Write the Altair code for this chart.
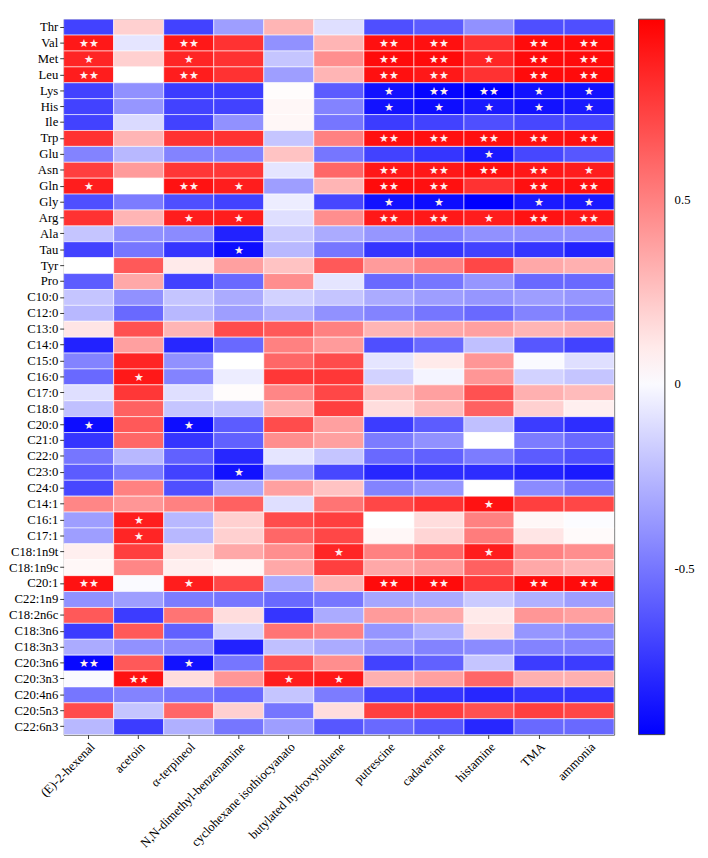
import altair as alt
import pandas as pd

rows = ["Thr", "Val", "Met", "Leu", "Lys", "His", "Ile", "Trp", "Glu", "Asn", "Gln", "Gly", "Arg",
        "Ala", "Tau", "Tyr", "Pro", "C10:0", "C12:0", "C13:0", "C14:0", "C15:0", "C16:0", "C17:0",
        "C18:0", "C20:0", "C21:0", "C22:0", "C23:0", "C24:0", "C14:1", "C16:1", "C17:1", "C18:1n9t",
        "C18:1n9c", "C20:1", "C22:1n9", "C18:2n6c", "C18:3n6", "C18:3n3", "C20:3n6", "C20:3n3",
        "C20:4n6", "C20:5n3", "C22:6n3"]

cols = ["(E)-2-hexenal", "acetoin", "α-terpineol", "N,N-dimethyl-benzenamine",
        "cyclohexane isothiocyanato", "butylated hydroxytoluene", "putrescine", "cadaverine",
        "histamine", "TMA", "ammonia"]

hexenal = [-0.7, 0.9, 0.85, 0.88, -0.7, -0.7, -0.7, 0.8, -0.45, 0.75, 0.88, -0.65, 0.8, -0.2, -0.7,
           0.02, -0.6, -0.2, -0.25, 0.12, -0.82, -0.45, -0.55, -0.1, -0.22, -0.9, -0.75, -0.5, -0.6,
           -0.68, 0.48, -0.35, -0.35, 0.08, 0.05, 0.92, -0.4, 0.65, -0.72, -0.3, -0.92, 0.0, -0.5, 0.7, -0.25]
acetoin = [0.2, -0.08, 0.2, 0.02, -0.4, -0.38, -0.12, 0.3, -0.25, 0.4, 0.02, -0.48, 0.3, -0.4, -0.5,
           0.65, 0.35, -0.4, -0.55, 0.68, 0.38, 0.85, 0.9, 0.78, 0.62, 0.65, 0.6, -0.25, -0.48,
           0.5, 0.42, 0.88, 0.85, 0.75, 0.48, 0.0, -0.35, -0.72, 0.65, -0.4, 0.65, 0.92, -0.45, -0.2, -0.72]
terpineol = [-0.7, 0.9, 0.85, 0.88, -0.72, -0.7, -0.7, 0.8, -0.45, 0.78, 0.92, -0.65, 0.88, -0.42, -0.75,
             0.1, -0.7, -0.2, -0.25, 0.3, -0.8, -0.4, -0.45, -0.1, -0.2, -0.9, -0.75, -0.58, -0.7,
             -0.65, 0.5, -0.25, -0.25, 0.15, 0.08, 0.88, -0.48, 0.55, -0.58, -0.42, -0.88, 0.15, -0.5, 0.6, -0.28]
benzenamine = [-0.35, 0.8, 0.8, 0.8, -0.72, -0.7, -0.4, 0.8, -0.45, 0.78, 0.88, -0.7, 0.88, -0.82, -0.9,
               0.38, -0.55, -0.3, -0.35, 0.7, -0.55, 0.02, -0.05, 0.03, -0.2, -0.6, -0.58, -0.8, -0.88,
               -0.32, 0.62, 0.2, 0.2, 0.35, 0.05, 0.72, -0.5, 0.15, -0.15, -0.82, -0.5, 0.42, -0.55, 0.2, -0.5]
cyclohexane = [0.3, -0.4, -0.2, -0.35, 0.03, 0.05, 0.05, -0.2, 0.25, -0.08, -0.35, -0.05, -0.1, -0.18, -0.25,
               0.25, 0.45, -0.15, -0.28, 0.65, 0.5, 0.6, 0.78, 0.48, 0.32, 0.7, 0.45, -0.08, -0.38,
               0.38, -0.1, 0.7, 0.6, 0.45, 0.35, -0.3, -0.55, -0.75, 0.55, -0.22, 0.68, 0.88, -0.2, -0.5, -0.35]
bht = [-0.1, 0.3, 0.45, 0.3, -0.6, -0.45, -0.5, 0.5, -0.5, 0.6, 0.3, -0.68, 0.45, -0.3, -0.5,
       0.65, -0.08, -0.2, -0.4, 0.5, 0.4, 0.7, 0.78, 0.72, 0.75, 0.38, 0.38, -0.2, -0.68,
       0.25, 0.55, 0.75, 0.72, 0.85, 0.75, 0.3, -0.5, -0.3, 0.5, -0.3, 0.45, 0.9, -0.48, 0.15, -0.62]
putrescine = [-0.65, 0.93, 0.95, 0.93, -0.88, -0.88, -0.72, 0.93, -0.7, 0.9, 0.95, -0.88, 0.9, -0.38, -0.75,
              0.4, -0.55, -0.3, -0.45, 0.3, -0.65, -0.08, -0.15, 0.28, 0.15, -0.72, -0.48, -0.55, -0.8,
              -0.45, 0.72, 0.02, 0.05, 0.5, 0.35, 0.95, -0.32, 0.4, -0.38, -0.38, -0.7, 0.32, -0.7, 0.75, -0.55]
cadaverine = [-0.6, 0.93, 0.95, 0.9, -0.93, -0.9, -0.7, 0.93, -0.75, 0.9, 0.93, -0.9, 0.9, -0.45, -0.75,
              0.5, -0.5, -0.35, -0.5, 0.35, -0.55, 0.1, -0.02, 0.38, 0.28, -0.6, -0.4, -0.58, -0.78,
              -0.38, 0.8, 0.15, 0.18, 0.6, 0.4, 0.95, -0.3, 0.35, -0.28, -0.45, -0.58, 0.38, -0.75, 0.75, -0.62]
histamine = [-0.4, 0.8, 0.85, 0.8, -0.97, -0.85, -0.65, 0.93, -0.85, 0.93, 0.8, -0.98, 0.88, -0.4, -0.7,
             0.72, -0.38, -0.38, -0.55, 0.38, -0.22, 0.42, 0.42, 0.68, 0.62, -0.22, 0.02, -0.48, -0.78,
             0.02, 0.92, 0.5, 0.52, 0.88, 0.62, 0.78, -0.18, 0.1, 0.15, -0.42, -0.2, 0.6, -0.8, 0.68, -0.8]
tma = [-0.65, 0.95, 0.95, 0.95, -0.88, -0.88, -0.68, 0.92, -0.68, 0.9, 0.93, -0.85, 0.92, -0.4, -0.75,
       0.35, -0.55, -0.35, -0.45, 0.3, -0.62, 0.0, -0.15, 0.32, 0.2, -0.72, -0.48, -0.6, -0.82,
       -0.42, 0.75, 0.05, 0.12, 0.5, 0.35, 0.95, -0.28, 0.42, -0.38, -0.45, -0.72, 0.32, -0.75, 0.75, -0.55]
ammonia = [-0.65, 0.95, 0.95, 0.95, -0.88, -0.85, -0.68, 0.93, -0.62, 0.88, 0.93, -0.85, 0.9, -0.4, -0.82,
           0.32, -0.55, -0.38, -0.48, 0.32, -0.7, -0.1, -0.2, 0.28, 0.08, -0.78, -0.55, -0.65, -0.85,
           -0.5, 0.72, 0.01, 0.04, 0.45, 0.3, 0.95, -0.35, 0.38, -0.42, -0.45, -0.72, 0.32, -0.75, 0.72, -0.55]

sig_hexenal = {"Val": "**", "Met": "*", "Leu": "**", "Gln": "*", "C20:0": "*", "C20:1": "**", "C20:3n6": "**"}
sig_acetoin = {"C16:0": "*", "C16:1": "*", "C17:1": "*", "C20:3n3": "**"}
sig_terpineol = {"Val": "**", "Met": "*", "Leu": "**", "Gln": "**", "Arg": "*", "C20:0": "*",
                 "C20:1": "*", "C20:3n6": "*"}
sig_benzenamine = {"Gln": "*", "Arg": "*", "Tau": "*", "C23:0": "*"}
sig_cyclohexane = {"C20:3n3": "*"}
sig_bht = {"C18:1n9t": "*", "C20:3n3": "*"}
sig_putrescine = {"Val": "**", "Met": "**", "Leu": "**", "Lys": "*", "His": "*", "Trp": "**",
                  "Asn": "**", "Gln": "**", "Gly": "*", "Arg": "**", "C20:1": "**"}
sig_cadaverine = {"Val": "**", "Met": "**", "Leu": "**", "Lys": "**", "His": "*", "Trp": "**",
                  "Asn": "**", "Gln": "**", "Gly": "*", "Arg": "**", "C20:1": "**"}
sig_histamine = {"Met": "*", "Lys": "**", "His": "*", "Trp": "**", "Glu": "*", "Asn": "**",
                 "Arg": "*", "C14:1": "*", "C18:1n9t": "*"}
sig_tma = {"Val": "**", "Met": "**", "Leu": "**", "Lys": "*", "His": "*", "Trp": "**",
           "Asn": "**", "Gln": "**", "Gly": "*", "Arg": "**", "C20:1": "**"}
sig_ammonia = {"Val": "**", "Met": "**", "Leu": "**", "Lys": "*", "His": "*", "Trp": "**",
               "Asn": "*", "Gln": "**", "Gly": "*", "Arg": "**", "C20:1": "**"}

values = [hexenal, acetoin, terpineol, benzenamine, cyclohexane, bht, putrescine, cadaverine,
          histamine, tma, ammonia]
sigs = [sig_hexenal, sig_acetoin, sig_terpineol, sig_benzenamine, sig_cyclohexane, sig_bht,
        sig_putrescine, sig_cadaverine, sig_histamine, sig_tma, sig_ammonia]

records = []
for c, vals, sg in zip(cols, values, sigs):
    for r, v in zip(rows, vals):
        s = sg.get(r, "")
        records.append({"row": r, "col": c, "r": v, "sig": s.replace("*", "★")})
df = pd.DataFrame(records)

FONT = "Liberation Serif"
W, H = 564, 733

x_enc = alt.X("col:N", sort=cols, title=None,
              axis=alt.Axis(labelAngle=-45, labelAlign="right", labelBaseline="top",
                            labelFont=FONT, labelFontSize=13, labelColor="#000",
                            tickColor="#333", tickSize=4, domain=False, labelPadding=2))
y_enc = alt.Y("row:N", sort=rows, title=None,
              axis=alt.Axis(labelFont=FONT, labelFontSize=13, labelColor="#000",
                            tickColor="#333", tickSize=4, domain=False, labelPadding=2))

heat = alt.Chart(df).mark_rect(stroke="#ffffff", strokeWidth=0.6).encode(
    x=x_enc,
    y=y_enc,
    color=alt.Color(
        "r:Q",
        scale=alt.Scale(domain=[-0.95, 0.02, 0.99], range=["#0000ff", "#ffffff", "#ff0000"],
                        interpolate="rgb"),
        legend=alt.Legend(title=None, values=[0.5, 0, -0.5], direction="vertical",
                          gradientLength=H, gradientThickness=27, offset=25,
                          labelFont=FONT, labelFontSize=13, labelColor="#000", labelOffset=10,
                          labelExpr="toString(datum.value)",
                          gradientStrokeColor="#444", gradientStrokeWidth=1),
    ),
)

stars = alt.Chart(df).mark_text(color="#ffeeee", fontSize=11, baseline="middle", dy=1).encode(
    x=alt.X("col:N", sort=cols),
    y=alt.Y("row:N", sort=rows),
    text="sig:N",
)

chart = alt.layer(heat, stars).properties(
    width=W, height=H, padding={"left": 0, "top": 0, "right": 5, "bottom": 0}
).configure_view(stroke="#333", strokeWidth=1).configure_legend(
    gradientVerticalMaxLength=900, gradientVerticalMinLength=100
).configure_scale(bandPaddingInner=0)

chart.save("out.html", embed_options={"renderer": "svg", "actions": False})
